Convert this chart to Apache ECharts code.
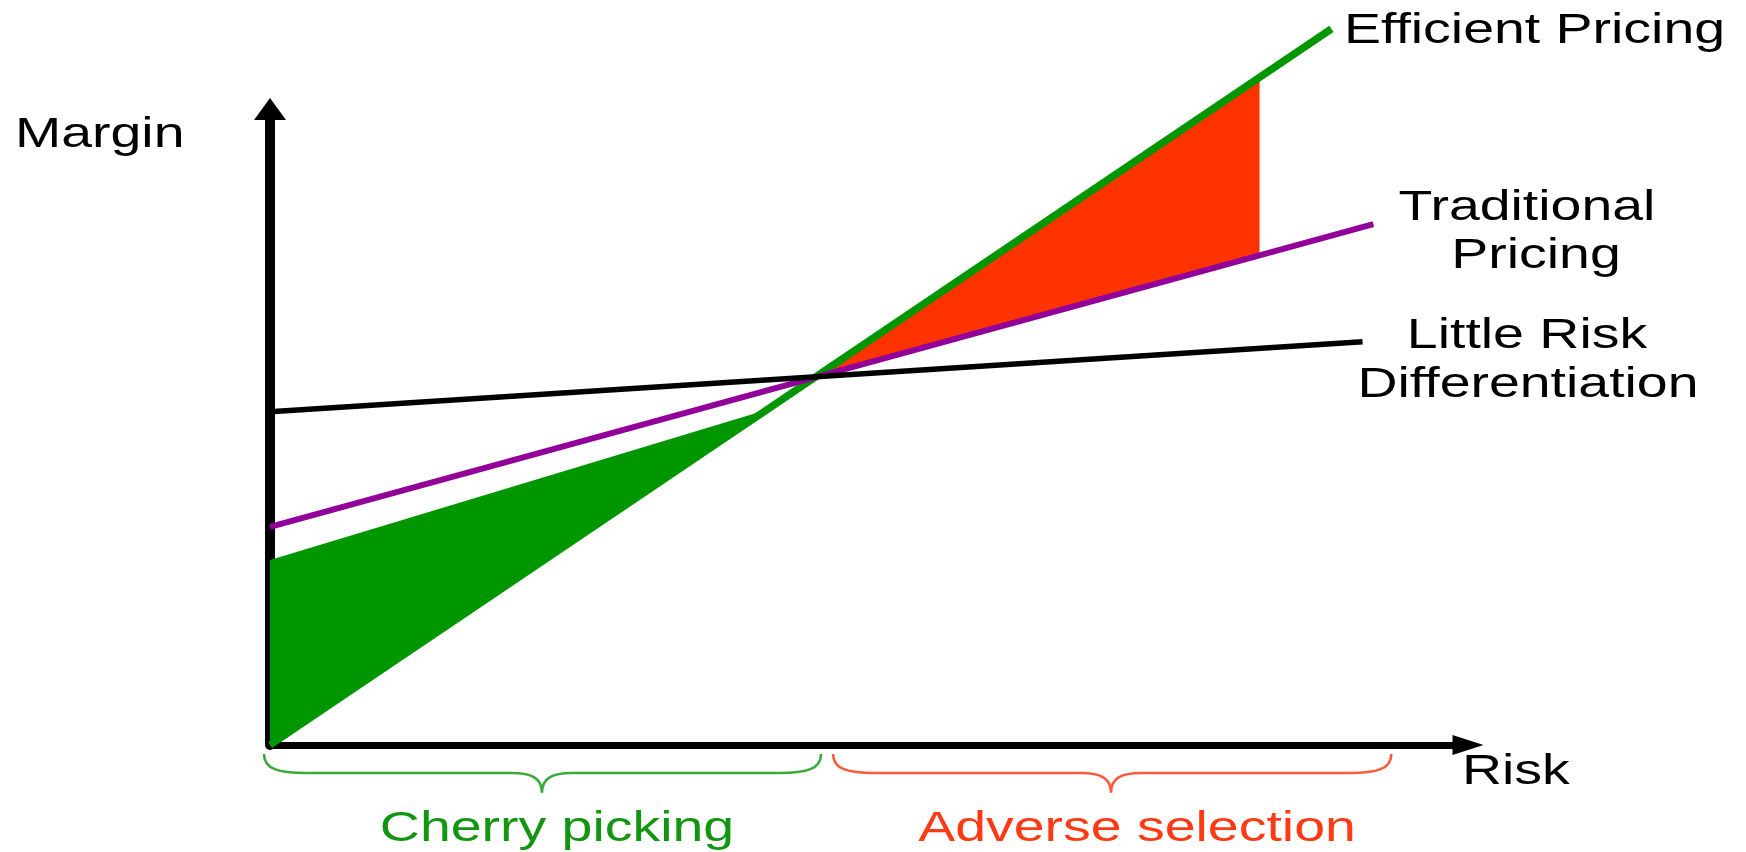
<!DOCTYPE html>
<html>
<head>
<meta charset="utf-8">
<script src="https://cdn.jsdelivr.net/npm/echarts@6/dist/echarts.min.js"></script>
<style>
html,body{margin:0;padding:0;background:#fff;}
#chart{width:1746px;height:852px;}
</style>
</head>
<body>
<div id="chart"></div>
<script>
// ---- data (abstract units, 0..100 on both axes) ----
const xRange = [0, 100];
const yRange = [0, 100];
const efficientPricing   = [[0, 0], [88.6, 112.6]];
const traditionalPricing = [[0, 34.3], [92.1, 81.9]];
const littleRiskDiff     = [[0, 52.4], [91.2, 63.4]];
const cherryArea  = [[0, 0], [0, 29.1], [41.5, 52.7]];
const adverseArea = [[45.4, 57.8], [82.6, 105.0], [82.6, 76.9]];
// braces: [start, tip, end] along x ; levels: [top, base, tip] along y
const braceSpans  = [[-0.5, 22.7, 46.0], [47.0, 70.2, 93.6]];
const braceLevels = [-1.4, -4.4, -7.5];
const axisNames   = ['Margin', 'Risk'];
const lineNames   = [['Efficient Pricing'], ['Traditional', 'Pricing'], ['Little Risk', 'Differentiation']];
const braceNames  = ['Cherry picking', 'Adverse selection'];

const GREEN = '#009600', RED = '#ff3300', PURPLE = '#930099';
const FONT = '42px "Liberation Sans", Arial, sans-serif';
const SX = 1.32;

function polySeries(verts, color) {
  return {
    type: 'custom', z: 2, silent: true, clip: false,
    data: verts,
    renderItem: function (params, api) {
      if (params.dataIndex !== 0) return null;
      return { type: 'polygon', shape: { points: verts.map(p => api.coord(p)) },
               style: { fill: color } };
    }
  };
}
function lineSeries(pts, color, w) {
  return { type: 'line', data: pts, showSymbol: false, symbol: 'none', clip: false, silent: true,
           z: 3, lineStyle: { color: color, width: w } };
}
function braceSeries(span, color) {
  return {
    type: 'custom', z: 2, silent: true, clip: false,
    data: [span],
    renderItem: function (params, api) {
      const p0 = api.coord([span[0], braceLevels[0]]);
      const pm = api.coord([span[1], braceLevels[2]]);
      const p1 = api.coord([span[2], braceLevels[0]]);
      const yb = api.coord([span[1], braceLevels[1]])[1];
      const x0 = p0[0], yt = p0[1], xm = pm[0], yp = pm[1], x1 = p1[0];
      const r = 42, rt = 30;
      const ye = yt + (yb - yt) * 0.8, ys = yb + (yp - yb) * 0.25;
      const d = 'M' + x0 + ',' + yt +
        ' C' + x0 + ',' + ye + ' ' + (x0 + r * 0.35) + ',' + yb + ' ' + (x0 + r) + ',' + yb +
        ' L' + (xm - rt) + ',' + yb +
        ' C' + (xm - rt * 0.35) + ',' + yb + ' ' + xm + ',' + ys + ' ' + xm + ',' + yp +
        ' C' + xm + ',' + ys + ' ' + (xm + rt * 0.35) + ',' + yb + ' ' + (xm + rt) + ',' + yb +
        ' L' + (x1 - r) + ',' + yb +
        ' C' + (x1 - r * 0.35) + ',' + yb + ' ' + x1 + ',' + ye + ' ' + x1 + ',' + yt;
      return { type: 'path', shape: { pathData: d },
               style: { stroke: color, lineWidth: 2.6, fill: null } };
    }
  };
}
function txt(text, x, y, align, color) {
  return { type: 'text', x: x, y: y, scaleX: SX, z: 10, silent: true,
           style: { text: text, font: FONT, fill: color || '#000',
                    align: align, textAlign: align, verticalAlign: 'middle', textVerticalAlign: 'middle' } };
}

const chart = echarts.init(document.getElementById('chart'), null, { renderer: 'canvas' });
chart.setOption({
  animation: false,
  backgroundColor: '#fff',
  grid: { left: 270, right: 278, top: 109, bottom: 107, containLabel: false },
  xAxis: {
    type: 'value', min: xRange[0], max: xRange[1],
    axisLine: { show: true, onZero: false, symbol: ['none', 'triangle'], symbolSize: [20, 31],
                lineStyle: { color: '#000', width: 7 } },
    axisTick: { show: false }, axisLabel: { show: false }, splitLine: { show: false }
  },
  yAxis: {
    type: 'value', min: yRange[0], max: yRange[1],
    axisLine: { show: true, onZero: false, symbol: ['none', 'triangle'], symbolSize: [32, 22],
                lineStyle: { color: '#000', width: 10 } },
    axisTick: { show: false }, axisLabel: { show: false }, splitLine: { show: false }
  },
  series: [
    polySeries(cherryArea, GREEN),
    polySeries(adverseArea, RED),
    lineSeries(efficientPricing, GREEN, 7.5),
    lineSeries(traditionalPricing, PURPLE, 6),
    lineSeries(littleRiskDiff, '#000', 5.5),
    braceSeries(braceSpans[0], '#3aaa3a'),
    braceSeries(braceSpans[1], '#ff5a3a')
  ],
  graphic: [
    txt(axisNames[0], 15, 135, 'left'),
    txt(axisNames[1], 1462, 772, 'left'),
    txt(lineNames[0][0], 1344, 31, 'left'),
    txt(lineNames[1][0], 1527, 208, 'center'),
    txt(lineNames[1][1], 1536, 256, 'center'),
    txt(lineNames[2][0], 1527, 336, 'center'),
    txt(lineNames[2][1], 1528, 385, 'center'),
    txt(braceNames[0], 557, 829, 'center', '#129612'),
    txt(braceNames[1], 1137, 829, 'center', '#ff3a14')
  ]
});
</script>
</body>
</html>
